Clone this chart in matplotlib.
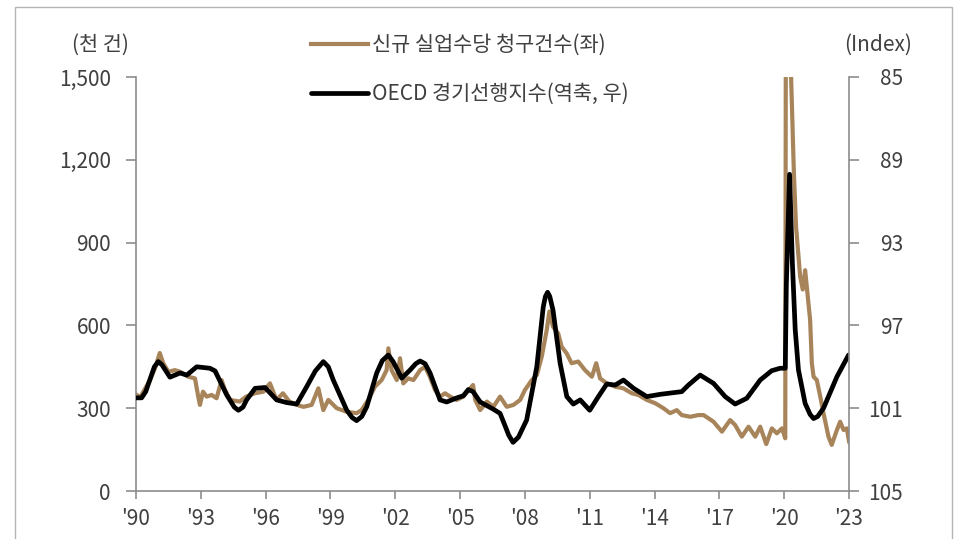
import matplotlib
matplotlib.use('Agg')
import matplotlib.pyplot as plt
from matplotlib.patches import Rectangle
from matplotlib.ticker import FuncFormatter

plt.rcParams['font.family'] = ['Noto Sans CJK KR', 'DejaVu Sans']
plt.rcParams['font.weight'] = 'light'

# 신규 실업수당 청구건수 (천 건), 좌축
claims_t = [1990.0, 1990.2, 1990.34, 1990.65, 1990.88, 1991.1, 1991.26, 1991.5, 1991.8, 1992.04, 1992.42,
            1992.73, 1992.88, 1992.96, 1993.1, 1993.27, 1993.5, 1993.73, 1993.96, 1994.1, 1994.35,
            1994.8, 1995.1, 1995.5, 1995.9, 1996.2, 1996.5, 1996.8, 1997.1, 1997.44, 1997.75,
            1998.13, 1998.44, 1998.67, 1998.9, 1999.29, 1999.75, 2000.21, 2000.44, 2000.75, 2001.06,
            2001.37, 2001.6, 2001.68, 2001.83, 2002.07, 2002.22, 2002.37, 2002.6, 2002.84, 2003.15,
            2003.38, 2003.6, 2003.84, 2004.07, 2004.3, 2004.54, 2004.84, 2005.15, 2005.6, 2005.7,
            2005.93, 2006.24, 2006.54, 2006.85, 2007.16, 2007.47, 2007.78, 2008.0, 2008.32, 2008.55,
            2008.78, 2009.01, 2009.13, 2009.3, 2009.54, 2009.7, 2009.93, 2010.16, 2010.47, 2010.78,
            2011.1, 2011.3, 2011.48, 2011.79, 2012.18, 2012.56, 2012.95, 2013.25, 2013.64, 2014.03,
            2014.41, 2014.72, 2015.03, 2015.26, 2015.65, 2016.03, 2016.27, 2016.73, 2017.12, 2017.5,
            2017.73, 2018.04, 2018.35, 2018.66, 2018.89, 2019.17, 2019.43, 2019.66, 2019.9, 2020.05,
            2020.1, 2020.2, 2020.26, 2020.32, 2020.45, 2020.55, 2020.74, 2020.86, 2020.97, 2021.2,
            2021.28, 2021.36, 2021.51, 2021.67, 2021.82, 2022.05, 2022.2, 2022.44, 2022.59, 2022.75,
            2022.9, 2023.0]
claims_v = [350, 340, 360, 402, 445, 500, 463, 432, 438, 432, 414,
            408, 342, 312, 360, 342, 348, 336, 402, 370, 330,
            324, 342, 354, 360, 390, 330, 354, 324, 312, 305,
            312, 372, 293, 330, 300, 287, 282, 293, 330, 378,
            402, 438, 517, 438, 402, 481, 390, 408, 402, 438,
            450, 414, 366, 342, 354, 342, 330, 342, 384, 330,
            293, 324, 305, 342, 305, 312, 330, 366, 402, 420,
            487, 583, 650, 595, 571, 523, 499, 463, 469, 438,
            414, 463, 408, 390, 378, 372, 354, 348, 330, 318,
            300, 282, 293, 275, 269, 275, 275, 251, 215, 257,
            239, 197, 233, 197, 233, 170, 227, 209, 227, 191,
            3000, 6800, 3500, 1500, 1150, 957, 776, 730, 800, 620,
            463, 414, 402, 342, 282, 197, 167, 221, 251, 221,
            227, 180]

# OECD 경기선행지수 (Index), 우축(역축)
oecd_t = [1990.0, 1990.26, 1990.45, 1990.65, 1990.85, 1991.03, 1991.2, 1991.57, 1992.04, 1992.35,
          1992.81, 1993.42, 1993.66, 1994.2, 1994.55, 1994.74, 1994.95, 1995.12, 1995.51, 1995.97,
          1996.51, 1996.98, 1997.44, 1997.9, 1998.3, 1998.67, 1998.9, 1999.13, 1999.75, 2000.0,
          2000.21, 2000.45, 2000.68, 2001.14, 2001.4, 2001.68, 2001.9, 2002.3, 2002.69, 2002.95,
          2003.15, 2003.38, 2003.61, 2004.07, 2004.38, 2004.85, 2005.15, 2005.38, 2005.6, 2005.93,
          2006.54, 2006.85, 2007.1, 2007.25, 2007.45, 2007.7, 2008.08, 2008.55, 2008.85, 2008.95,
          2009.05, 2009.15, 2009.3, 2009.63, 2009.94, 2010.24, 2010.56, 2011.0, 2011.4, 2011.79,
          2012.18, 2012.56, 2013.03, 2013.64, 2014.26, 2015.26, 2015.57, 2016.11, 2016.73, 2017.27,
          2017.73, 2018.27, 2018.89, 2019.42, 2019.81, 2020.05, 2020.1, 2020.25, 2020.38, 2020.51,
          2020.66, 2020.97, 2021.2, 2021.36, 2021.55, 2021.82, 2022.44, 2022.98]
oecd_v = [100.5, 100.5, 100.2, 99.6, 99.0, 98.75, 98.9, 99.5, 99.3, 99.4,
          99.0, 99.07, 99.2, 100.36, 100.95, 101.1, 100.95, 100.6, 100.04, 100.0,
          100.6, 100.73, 100.8, 99.96, 99.2, 98.75, 99.0, 99.64, 101.09, 101.45,
          101.6, 101.4, 100.93, 99.3, 98.7, 98.43, 98.75, 99.55, 99.15, 98.85,
          98.72, 98.85, 99.3, 100.6, 100.7, 100.5, 100.4, 100.1, 100.2, 100.7,
          101.05, 101.25, 101.9, 102.3, 102.65, 102.4, 101.57, 99.0, 96.1, 95.6,
          95.4, 95.6, 96.26, 98.83, 100.44, 100.8, 100.6, 101.1, 100.44, 99.83,
          99.88, 99.64, 100.04, 100.44, 100.33, 100.2, 99.88, 99.4, 99.8, 100.44,
          100.8, 100.52, 99.64, 99.19, 99.07, 99.07, 95.0, 89.7, 94.0, 97.2,
          99.15, 100.77, 101.3, 101.5, 101.4, 101.0, 99.48, 98.43]

x_ticks = list(range(1990, 2024, 3))
x_labels = ["'" + str(y)[2:] for y in x_ticks]
left_ticks = [0, 300, 600, 900, 1200, 1500]
right_ticks = [85, 89, 93, 97, 101, 105]

brown = '#A8845A'
spine_c = '#8C8C8C'
text_c = '#404040'

fig = plt.figure(figsize=(9.59, 5.39), dpi=100)
ax = fig.add_axes([136 / 959, 1 - 491 / 539, 713 / 959, 414 / 539])
ax2 = ax.twinx()

l1, = ax.plot(claims_t, claims_v, color=brown, lw=3.0, solid_joinstyle='round',
              label='신규 실업수당 청구건수(좌)')
l2, = ax2.plot(oecd_t, oecd_v, color='black', lw=3.4, solid_joinstyle='round',
               solid_capstyle='round', label='OECD 경기선행지수(역축, 우)')

ax.set_xlim(1990, 2023)
ax.set_ylim(0, 1500)
ax2.set_ylim(105, 85)

ax.set_xticks(x_ticks)
ax.set_xticklabels(x_labels)
ax.set_yticks(left_ticks)
ax.yaxis.set_major_formatter(FuncFormatter(lambda v, p: f'{int(v):,}'))
ax2.set_yticks(right_ticks)

for a in (ax, ax2):
    a.spines['top'].set_visible(False)
    for s in a.spines.values():
        s.set_color(spine_c)
        s.set_linewidth(1.2)
ax2.spines['left'].set_visible(False)
ax2.spines['bottom'].set_visible(False)
ax.spines['right'].set_visible(False)

ax.tick_params(axis='x', length=6, width=1.2, color=spine_c, pad=6,
               labelsize=15, labelcolor=text_c)
ax.tick_params(axis='y', length=7, width=1.2, color=spine_c, pad=11,
               labelsize=15, labelcolor=text_c)
ax2.tick_params(axis='y', length=7, width=1.2, color=spine_c, pad=32,
                labelsize=15, labelcolor=text_c)
for t in ax2.get_yticklabels():
    t.set_horizontalalignment('right')

fig.text(100 / 959, 1 - 45 / 539, '(천 건)', ha='center', va='center',
         fontsize=15, color=text_c)
fig.text(878 / 959, 1 - 45 / 539, '(Index)', ha='center', va='center',
         fontsize=15, color=text_c)

fig.legend(handles=[l1, l2], loc='upper left', bbox_to_anchor=(311 / 959, 1 - 34 / 539),
           frameon=False, fontsize=15, handlelength=2.75, handletextpad=0.2,
           labelspacing=1.3, borderpad=0, borderaxespad=0, labelcolor=text_c)

fig.patches.append(Rectangle((15 / 959, -0.02), 937 / 959, 1.02 - 7 / 539,
                             transform=fig.transFigure, fill=False,
                             edgecolor='#B4B4B4', lw=1.0))

fig.savefig('out.png', dpi=100)
